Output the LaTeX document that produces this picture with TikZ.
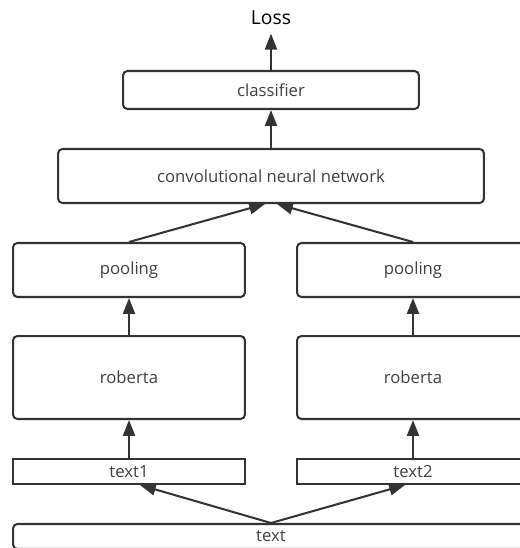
\documentclass[tikz,border=0pt]{standalone}
\usepackage{fontspec}
\setmainfont{Open Sans}
\usetikzlibrary{arrows.meta}
\definecolor{boxgray}{HTML}{333333}
\definecolor{textgray}{HTML}{404040}

\begin{document}
\begin{tikzpicture}[x=0.02cm, y=-0.02cm, font=\fontsize{9.5}{11}\selectfont,
    block/.style={draw=boxgray, line width=1.15pt, rounded corners=2.5pt, inner sep=0pt, text=textgray},
    flat/.style={draw=boxgray, line width=1.15pt, inner sep=0pt, text=textgray},
    up/.style={draw=boxgray, line width=1.15pt, -{Triangle[length=9pt, width=6.8pt]}}]
        \useasboundingbox (0,0) rectangle (520,548);
        % Top
        \node[font=\fontsize{11}{13}\selectfont, text=black] (loss) at (271,18) {Loss};
        \node[block, minimum width=5.92cm, minimum height=0.76cm] (clf) at (271,90) {classifier};
        \node[block, minimum width=8.52cm, minimum height=1.08cm] (cnn) at (271,176) {convolutional neural network};
        % Left branch
        \node[block, minimum width=4.64cm, minimum height=1.08cm] (pool1) at (129,270) {pooling};
        \node[block, minimum width=4.64cm, minimum height=1.66cm] (rob1) at (129,377.5) {roberta};
        \node[flat, minimum width=4.64cm, minimum height=0.5cm] (text1) at (129,471.5) {text1};
        % Right branch
        \node[block, minimum width=4.64cm, minimum height=1.08cm] (pool2) at (413,270) {pooling};
        \node[block, minimum width=4.64cm, minimum height=1.66cm] (rob2) at (413,377.5) {roberta};
        \node[flat, minimum width=4.64cm, minimum height=0.5cm] (text2) at (413,471.5) {text2};
        % Input
        \node[block, minimum width=10.32cm, minimum height=0.5cm] (text) at (271,536.5) {text};
        % Arrows
        \draw[up] (clf.north) -- ([yshift=-0.05cm]loss.south);
        \draw[up] (cnn.north) -- (clf.south);
        \draw[up] (pool1.north) -- ([xshift=-0.12cm]cnn.south);
        \draw[up] (pool2.north) -- ([xshift=0.12cm]cnn.south);
        \draw[up] (rob1.north) -- (pool1.south);
        \draw[up] (rob2.north) -- (pool2.south);
        \draw[up] (text1.north) -- (rob1.south);
        \draw[up] (text2.north) -- (rob2.south);
        \draw[up] (text.north) -- ([xshift=0.22cm]text1.south);
        \draw[up] (text.north) -- ([xshift=-0.16cm]text2.south);
      \end{tikzpicture}
\end{document}
